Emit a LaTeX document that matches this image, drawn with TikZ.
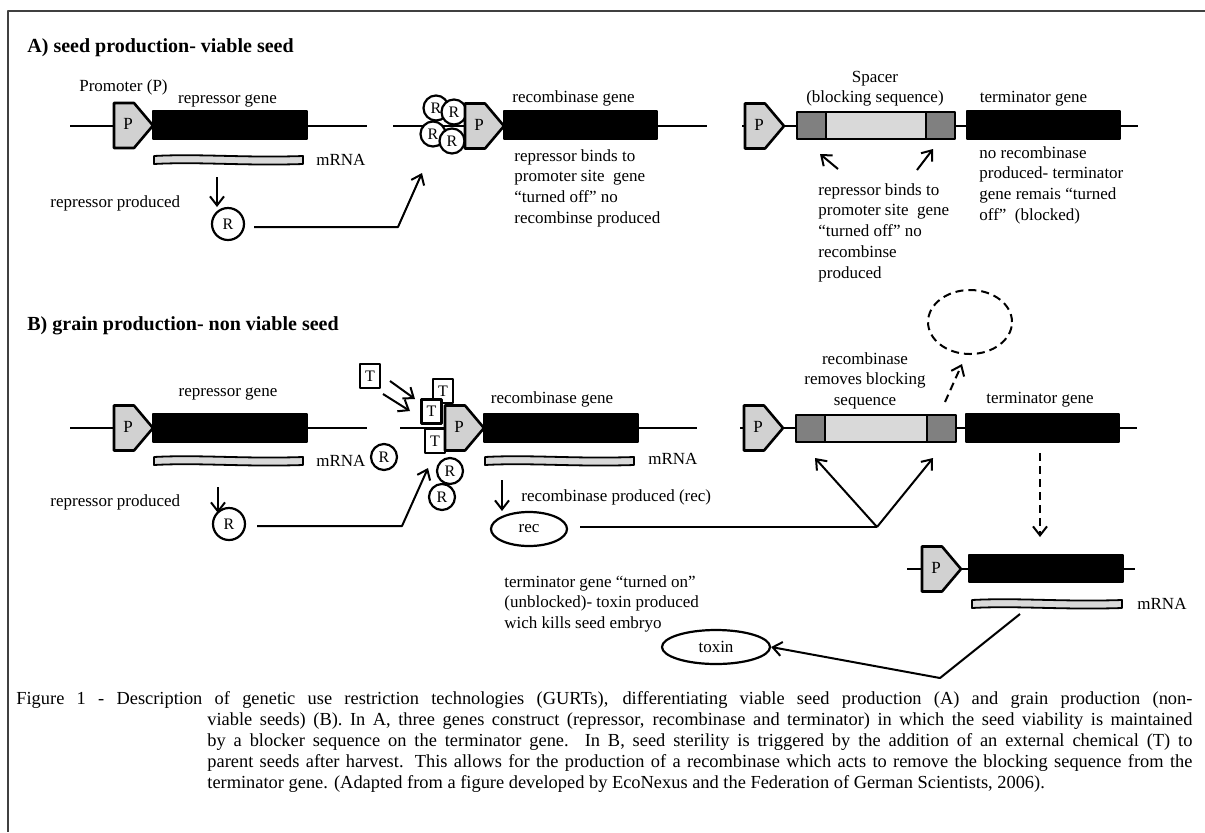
\documentclass[tikz,border=0pt]{standalone}
\usepackage{fontspec}
\setmainfont{Liberation Serif}
\usetikzlibrary{arrows.meta,shapes.geometric}
\newcommand{\lblfont}{\fontsize{8.5}{10.35}\selectfont}
% promoter pentagon: name, left x, centre y
\newcommand{\prmtr}[3]{%
  \draw[prom] (#2,#3-22.5) -- ++(20,0) -- ++(19,22.5) -- ++(-19,22.5) -- ++(-20,0) -- cycle;
  \node[lbl] (#1) at (#2+14,#3) {P};}
% mRNA bar: name, x1, x2, top y
\newcommand{\mrnabar}[4]{%
  \draw[mr] (#2,#4) .. controls ({#2+0.3*(#3-#2)},#4-2.5) and ({#2+0.6*(#3-#2)},#4+2) .. (#3,#4)
    -- (#3,#4+8) .. controls ({#2+0.6*(#3-#2)},#4+10) and ({#2+0.3*(#3-#2)},#4+5.5) .. (#2,#4+8) -- cycle;
  \coordinate (#1) at ({(#2+#3)/2},#4+4);}
% spacer: x1, top y, x2
\newcommand{\spcr}[3]{%
  \fill[black!15] (#1,#2) rectangle (#3,#2+27);
  \fill[black!50] (#1,#2) rectangle (#1+29,#2+27);
  \fill[black!50] (#3-29,#2) rectangle (#3,#2+27);
  \draw[sp] (#1,#2) rectangle (#3,#2+27);
  \draw[sp] (#1+29,#2) -- (#1+29,#2+27);
  \draw[sp] (#3-29,#2) -- (#3-29,#2+27);}
\begin{document}
\begin{tikzpicture}[x=0.5pt,y=-0.5pt, line join=round,
  lbl/.style={font=\lblfont, inner sep=0pt, text height=6pt, text depth=2pt},
  txt/.style={font=\lblfont, inner sep=0pt, align=left, anchor=north west},
  head/.style={font=\fontsize{10}{12}\selectfont\bfseries, inner sep=0pt, anchor=base west},
  gl/.style={line width=1pt},
  gene/.style={fill=black, draw=black, line width=0.6pt},
  prom/.style={fill=black!18, draw=black, line width=1.3pt},
  mr/.style={fill=black!15, draw=black, line width=0.9pt},
  sp/.style={draw=black, line width=1.2pt},
  rc/.style={circle, draw, fill=white, line width=1.1pt, inner sep=0pt, font=\fontsize{8}{9}\selectfont},
  tb/.style={rectangle, draw, fill=white, line width=1.1pt, inner sep=0pt, minimum width=10pt, minimum height=12pt, font=\fontsize{8}{9}\selectfont},
  ell/.style={ellipse, draw, line width=1.1pt, inner sep=0pt, minimum height=17pt, font=\lblfont},
  arr/.style={line width=1pt, -{Straight Barb[length=4.5pt,width=7pt]}},
  darr/.style={line width=1pt, dash pattern=on 4pt off 2.5pt, -{Straight Barb[length=4.5pt,width=7pt]}},
]
\useasboundingbox (0,0) rectangle (1205,832);
\fill[white] (0,0) rectangle (1205,832);
\draw[line width=1.2pt, black!75] (1205,11) -- (8,11) -- (8,832);

% ---------------- A ----------------
\node[head] (hA) at (27,52) {A) seed production- viable seed};

% A1 repressor
\draw[gl] (70,125.5) -- (367,125.5);
\prmtr{PA1}{114}{125.5}
\draw[gene] (153,111) rectangle (307,139);
\mrnabar{mA1}{154}{303}{156}
\node[lbl] (promlbl) at (123.5,87) {Promoter (P)};
\node[lbl] (gA1) at (227.5,99) {repressor gene};
\node[lbl, anchor=west] (mA1l) at (316,161) {mRNA};
\node[lbl, anchor=west] (rpA) at (50,203) {repressor produced};
\node[rc, minimum size=16pt] (RA) at (228,224) {R};
\coordinate (dA1) at (217,177);
\draw[arr] (dA1) -- (217,207);
\coordinate (bendA) at (398,227);
\coordinate (hitA) at (422,173);
\draw[arr] ([shift={(9,3)}]RA.east) -- (bendA) -- (hitA);

% A2 recombinase
\draw[gl] (393,126) -- (707,126);
\node[rc, minimum size=12.5pt] (RA3) at (433,134) {R};
\node[rc, minimum size=12.5pt] (RA1) at (436,108) {R};
\node[rc, minimum size=12.5pt] (RA2) at (454,112) {R};
\node[rc, minimum size=12.5pt] (RA4) at (452,141) {R};
\prmtr{PA2}{465}{126}
\draw[gene] (504,111) rectangle (657,139);
\node[lbl] (gA2) at (573.5,98) {recombinase gene};
\node[txt] (tA2) at (514,149) {repressor binds to\\promoter site\ \ gene\\“turned off” no\\recombinse produced};

% A3 terminator
\draw[gl] (742,126) -- (1138,126);
\prmtr{PA3}{745}{126}
\spcr{797}{112}{955}
\draw[gene] (967,111) rectangle (1120,139);
\node[lbl] (spA) at (875,78) {Spacer};
\node[lbl] (bsA) at (875,98) {(blocking sequence)};
\node[lbl] (gA3) at (1033.5,98) {terminator gene};
\coordinate (aL1) at (838,169); \coordinate (aL2) at (820,154);
\coordinate (aR1) at (917,170); \coordinate (aR2) at (933,149);
\draw[arr] (aL1) -- (aL2);
\draw[arr] (aR1) -- (aR2);
\node[txt] (tA3) at (818,183) {repressor binds to\\promoter site\ \ gene\\“turned off” no\\recombinse\\produced};
\node[txt] (tA4) at (979,146) {no recombinase\\produced- terminator\\gene remais “turned\\off”\ \ (blocked)};

% ---------------- B ----------------
\node[head] (hB) at (27,330) {B) grain production- non viable seed};

% B1 repressor
\draw[gl] (70,428) -- (367,428);
\prmtr{PB1}{114}{428}
\draw[gene] (153,414) rectangle (307,442);
\mrnabar{mB1}{154}{303}{457}
\node[lbl] (gB1) at (228,392) {repressor gene};
\node[lbl, anchor=west] (mB1l) at (316,462) {mRNA};
\node[rc, minimum size=13pt] (RBm) at (384,457) {R};
\node[lbl, anchor=west] (rpB) at (50,502) {repressor produced};
\coordinate (dB1) at (218,487);
\draw[arr] (dB1) -- (218,513);
\node[rc, minimum size=16pt] (RB) at (229,524) {R};
\coordinate (bendB) at (402,526);
\coordinate (hitB) at (428,468);
\draw[arr] ([shift={(11,2)}]RB.east) -- (bendB) -- (hitB);

% chemical T
\node[tb] (T0) at (370,376) {T};
\coordinate (z1) at (390,381); \coordinate (z2) at (415,399);
\coordinate (z3) at (383,394); \coordinate (z4) at (410,411);
\draw[arr] (z1) -- (z2);
\draw[arr] (z3) -- (z4);

% B2 recombinase
\draw[gl] (400,428) -- (697,428);
\node[tb] (T1) at (443,391) {T};
\node[tb] (T2) at (431.5,411.5) {T};
\node[tb] (T3) at (435,441) {T};
\prmtr{PB2}{445}{428}
\draw[gene] (484,414) rectangle (638,442);
\node[lbl] (gB2) at (552,399) {recombinase gene};
\mrnabar{mB2}{485}{634}{457}
\node[lbl, anchor=west] (mB2l) at (648,460) {mRNA};
\node[rc, minimum size=13pt] (RB1) at (450,471) {R};
\node[rc, minimum size=13pt] (RB2) at (442,497) {R};
\coordinate (dB2) at (502,480);
\draw[arr] (dB2) -- (502,511);
\node[lbl, anchor=west] (rpr) at (521,497) {recombinase produced (rec)};
\node[ell, minimum width=38pt] (rec) at (529,529) {rec};
\coordinate (vB) at (877,527);
\coordinate (hL) at (815,458);
\coordinate (hR) at (933,458);
\draw[line width=1pt] ([shift={(12,-2)}]rec.east) -- (vB);
\draw[arr] (vB) -- (hL);
\draw[arr] (vB) -- (hR);

% B3 terminator
\draw[gl] (740,428) -- (1137,428);
\prmtr{PB3}{744}{428}
\spcr{796}{415}{956}
\draw[gene] (966,414) rectangle (1119,442);
\node[font=\lblfont, inner sep=0pt, align=center, anchor=north] (tB3) at (865,352) {recombinase\\removes blocking\\sequence};
\node[lbl] (gB3) at (1040,399) {terminator gene};
\node[ellipse, draw, line width=1pt, dash pattern=on 4pt off 2.5pt, minimum width=42pt, minimum height=32pt, inner sep=0pt] (loop) at (970,322) {};
\coordinate (cut) at (945,402);
\coordinate (cutend) at (962,364);
\draw[darr] (cut) -- (cutend);
\coordinate (dn1) at (1040,453);
\coordinate (dn2) at (1040,537);
\draw[darr] (dn1) -- (dn2);

% B3 activated terminator
\draw[gl] (907,569) -- (1135,569);
\prmtr{PB4}{922}{569}
\draw[gene] (969,555) rectangle (1123,582);
\mrnabar{mB4}{972}{1122}{600}
\node[lbl, anchor=west] (mB4l) at (1137,605) {mRNA};

\node[txt] (tB4) at (504,575) {terminator gene “turned on”\\(unblocked)- toxin produced\\wich kills seed embryo};
\node[ell, minimum width=54pt] (toxin) at (716,647) {toxin};
\coordinate (tx1) at (1020,614);
\coordinate (tx2) at (940,678);
\draw[arr] (tx1) -- (tx2) -- (toxin.east);

% caption
\node[anchor=north west, inner sep=0pt] (cap) at (16,691)
{\parbox[t]{588pt}{\fontsize{9.2}{10.5}\selectfont\hangindent=95.5pt\hangafter=1\noindent Figure 1 - Description of genetic use restriction technologies (GURTs), differentiating viable seed production (A) and grain production (non-\linebreak viable seeds) (B). In A, three genes construct (repressor, recombinase and terminator) in which the seed viability is maintained\linebreak by a blocker sequence on the terminator gene. In B, seed sterility is triggered by the addition of an external chemical (T) to\linebreak parent seeds after harvest. This allows for the production of a recombinase which acts to remove the blocking sequence from the\linebreak terminator gene. (Adapted from a figure developed by EcoNexus and the Federation of German Scientists, 2006).}};
\end{tikzpicture}
\end{document}
